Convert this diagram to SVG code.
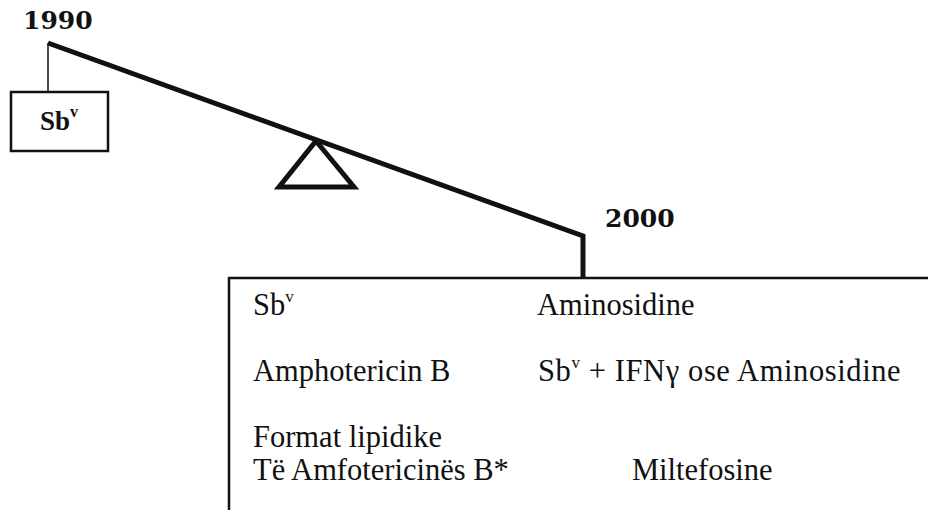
<svg xmlns="http://www.w3.org/2000/svg" width="928" height="510" viewBox="0 0 928 510">
<style>
.yr{font-family:"DejaVu Serif",serif;font-weight:bold;font-size:25px;fill:#111}
.tx{font-family:"Liberation Serif","Times New Roman",serif;font-size:30.5px;fill:#111}
.bx{font-family:"Liberation Serif","Times New Roman",serif;font-weight:bold;font-size:27px;fill:#111}
.thick{fill:none;stroke:#111;stroke-width:5;stroke-linejoin:miter}
.thin{fill:none;stroke:#111;stroke-width:1.5}
.box{fill:none;stroke:#111;stroke-width:2.5}
</style>
<rect width="928" height="510" fill="#fff"/>
<g id="connectors">
<polyline class="thick" points="48,43 583,236 583,277"/>
<line class="thin" x1="48" y1="43" x2="48" y2="92"/>
</g>
<g id="fulcrum">
<polygon class="thick" points="316,141 354,187 279,187"/>
</g>
<g id="label-1990">
<text class="yr" x="23" y="29">1990</text>
</g>
<g id="label-2000">
<text class="yr" x="605" y="227">2000</text>
</g>
<g id="node-1990">
<rect class="box" x="11" y="92" width="97" height="59"/>
<text class="bx" x="40" y="130">Sb<tspan font-size="16" dy="-13">v</tspan></text>
</g>
<g id="node-2000">
<polyline class="box" points="229,510 229,278 928,278"/>
<text class="tx" x="253" y="315">Sb<tspan font-size="17" dy="-13">v</tspan></text>
<text class="tx" x="537" y="315">Aminosidine</text>
<text class="tx" x="253" y="381">Amphotericin B</text>
<text class="tx" x="538" y="381" letter-spacing="0.6">Sb<tspan font-size="17" dy="-13">v</tspan><tspan dy="13"> + IFNγ ose Aminosidine</tspan></text>
<text class="tx" x="253" y="447">Format lipidike</text>
<text class="tx" x="253" y="480">Të Amfotericinës B*</text>
<text class="tx" x="632" y="480">Miltefosine</text>
</g>
</svg>
